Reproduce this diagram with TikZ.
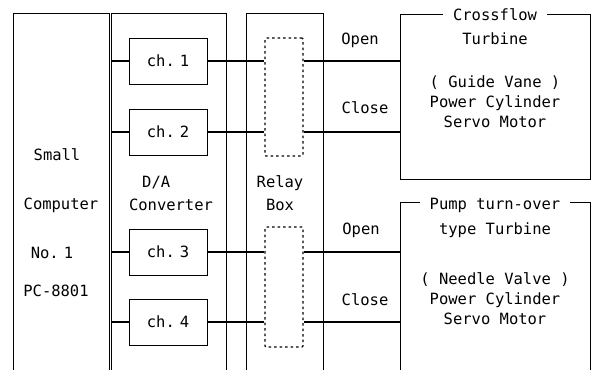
\documentclass[tikz,border=0pt]{standalone}
\usepackage{fontspec}
\setmonofont{DejaVu Sans Mono}
\usetikzlibrary{positioning}

\begin{document}
\begin{tikzpicture}[
  x=1pt, y=-1pt,
  font=\ttfamily\fontsize{15.5}{20}\selectfont,
  panel/.style={draw, line width=0.8pt, inner sep=0pt, minimum height=359pt},
  chbox/.style={draw, line width=0.8pt, minimum width=78pt, minimum height=46pt, inner sep=0pt,
    execute at begin node={\spaceskip=5pt\xspaceskip=5pt}},
  relbox/.style={draw, line width=1.1pt, dash pattern=on 2.5pt off 3pt, rounded corners=1pt, minimum width=38pt, inner sep=0pt},
  plant/.style={draw, line width=0.8pt, minimum width=190pt, inner sep=0pt},
  ttl/.style={fill=white, inner xsep=10pt, inner ysep=1pt},
  sig/.style={line width=1.4pt}
]
\useasboundingbox (0,0) rectangle (596,369);
\clip (0,0) rectangle (596,369);

% panels run off the bottom of the sheet
\node[panel, minimum width=96pt] (comp) at (61,192.5) {};
\node[panel, minimum width=115pt] (dac) at (168.5,192.5) {};
\node[panel, minimum width=77pt] (relay) at (284.5,192.5) {};

\node[chbox] (ch1) at (168,61) {ch. 1};
\node[chbox] (ch2) at (168,132) {ch. 2};
\node[chbox] (ch3) at (168,252) {ch. 3};
\node[chbox] (ch4) at (168,322) {ch. 4};

\node[relbox, minimum height=118pt] (rb1) at (284,97) {};
\node[relbox, minimum height=120pt] (rb2) at (284,287) {};

\node[plant, minimum height=165pt] (cross) at (495,96.5) {};
\node[plant, minimum height=170pt] (pump) at (495,287) {};

% labels
\node (small) at (57,155) {Small};
\node (computer) at (61,205) {Computer};
\node[execute at begin node={\spaceskip=5pt\xspaceskip=5pt}] (no) at (52,253) {No. 1};
\node (pc) at (56,291) {PC-8801};
\node[anchor=west, inner sep=0pt] (da) at (142,183) {D/A};
\node (conv) at (171,205) {Converter};
\node (rel) at (280,183) {Relay};
\node (box) at (280,205) {Box};

\node (open1) at (360,40) {Open};
\node (close1) at (365,108) {Close};
\node (open2) at (361,230) {Open};
\node (close2) at (365,300) {Close};

\node[ttl] (crosst) at (495,15) {Crossflow};
\node (crosss) at (495,39) {Turbine};
\node[align=center] (crossd) at (495,102) {( Guide Vane )\\Power Cylinder\\Servo Motor};
\node[ttl] (pumpt) at (495,205) {Pump turn-over};
\node (pumps) at (495,230) {type Turbine};
\node[align=center] (pumpd) at (495,299) {( Needle Valve )\\Power Cylinder\\Servo Motor};

% signal lines
\foreach \c/\r in {ch1/rb1, ch2/rb1, ch3/rb2, ch4/rb2}
  \draw[sig] (dac.west |- \c) -- (\c.west) (\c.east) -- (\r.west |- \c);
\draw[sig] (rb1.east |- ch1) -- (cross.west |- ch1);
\draw[sig] (rb1.east |- ch2) -- (cross.west |- ch2);
\draw[sig] (rb2.east |- ch3) -- (pump.west |- ch3);
\draw[sig] (rb2.east |- ch4) -- (pump.west |- ch4);
\end{tikzpicture}
\end{document}
